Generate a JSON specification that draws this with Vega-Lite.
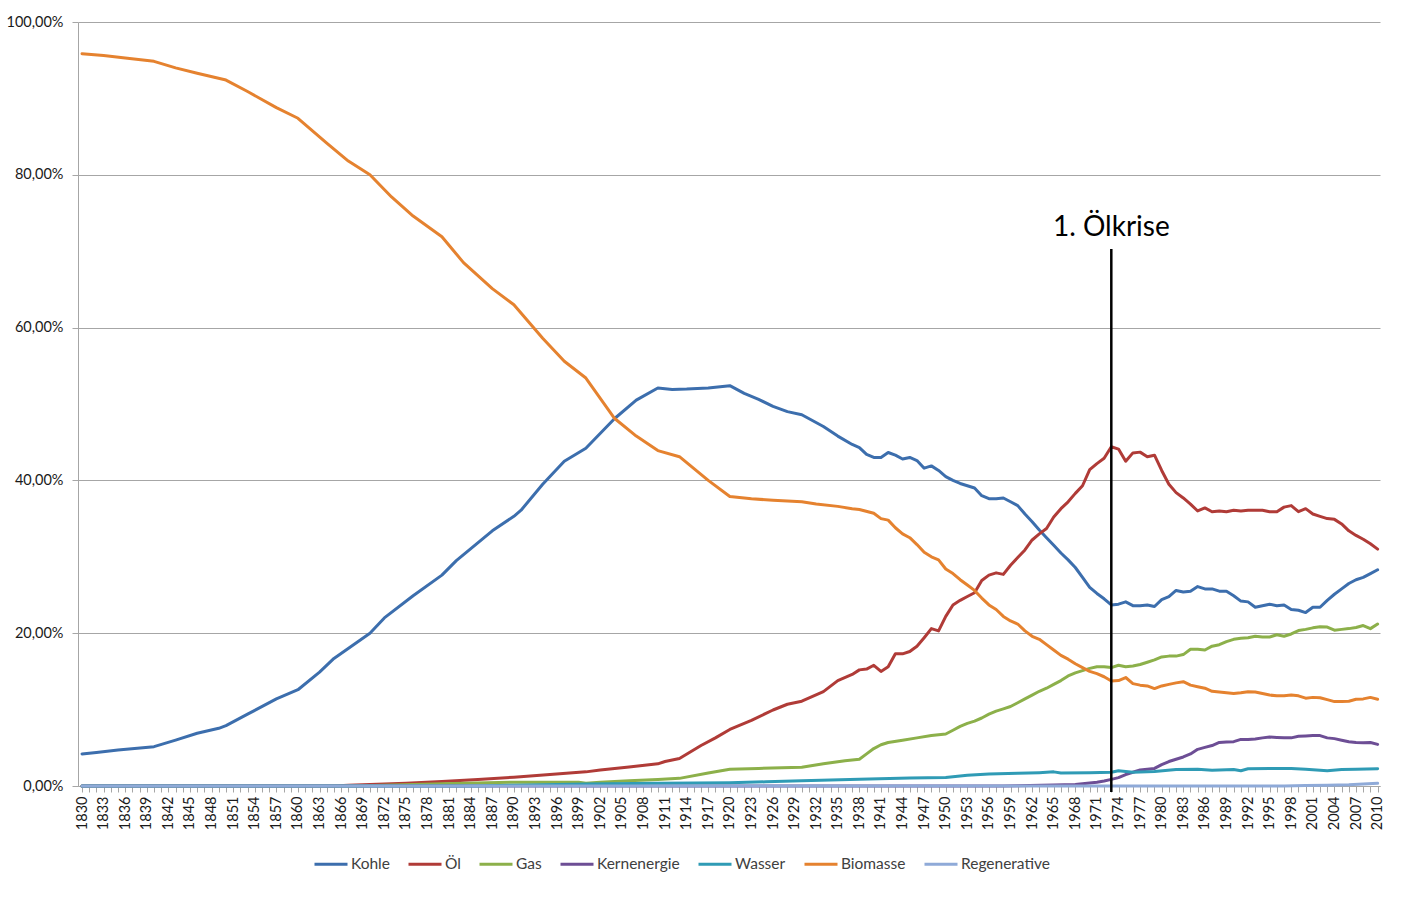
{
"$schema":"https://vega.github.io/schema/vega-lite/v6.json",
"autosize":"none",
"padding":{"left":78,"top":22,"right":27,"bottom":111},
"width":1302,"height":764,
"background":"white",
"config":{"font":"Lato","view":{"stroke":null}},
"datasets":{"series":[
{"year":1830,"source":"Kohle","share":4.2},{"year":1832,"source":"Kohle","share":4.4},{"year":1835,"source":"Kohle","share":4.7},{"year":1840,"source":"Kohle","share":5.15},{"year":1843,"source":"Kohle","share":6.0},{"year":1846,"source":"Kohle","share":6.9},{"year":1849,"source":"Kohle","share":7.55},{"year":1850,"source":"Kohle","share":7.9},{"year":1853,"source":"Kohle","share":9.4},{"year":1857,"source":"Kohle","share":11.4},{"year":1860,"source":"Kohle","share":12.6},{"year":1863,"source":"Kohle","share":14.9},{"year":1865,"source":"Kohle","share":16.7},{"year":1870,"source":"Kohle","share":20.0},{"year":1872,"source":"Kohle","share":22.0},{"year":1876,"source":"Kohle","share":24.9},{"year":1880,"source":"Kohle","share":27.6},{"year":1882,"source":"Kohle","share":29.5},{"year":1887,"source":"Kohle","share":33.4},{"year":1890,"source":"Kohle","share":35.3},{"year":1891,"source":"Kohle","share":36.1},{"year":1894,"source":"Kohle","share":39.5},{"year":1897,"source":"Kohle","share":42.5},{"year":1900,"source":"Kohle","share":44.2},{"year":1904,"source":"Kohle","share":48.1},{"year":1907,"source":"Kohle","share":50.5},{"year":1910,"source":"Kohle","share":52.1},{"year":1912,"source":"Kohle","share":51.9},{"year":1914,"source":"Kohle","share":51.95},{"year":1917,"source":"Kohle","share":52.1},{"year":1920,"source":"Kohle","share":52.4},{"year":1922,"source":"Kohle","share":51.4},{"year":1924,"source":"Kohle","share":50.6},{"year":1926,"source":"Kohle","share":49.7},{"year":1928,"source":"Kohle","share":49.0},{"year":1930,"source":"Kohle","share":48.6},{"year":1933,"source":"Kohle","share":47.05},{"year":1935,"source":"Kohle","share":45.8},{"year":1937,"source":"Kohle","share":44.7},{"year":1938,"source":"Kohle","share":44.3},{"year":1939,"source":"Kohle","share":43.4},{"year":1940,"source":"Kohle","share":43.0},{"year":1941,"source":"Kohle","share":43.0},{"year":1942,"source":"Kohle","share":43.65},{"year":1943,"source":"Kohle","share":43.3},{"year":1944,"source":"Kohle","share":42.8},{"year":1945,"source":"Kohle","share":43.0},{"year":1946,"source":"Kohle","share":42.6},{"year":1947,"source":"Kohle","share":41.6},{"year":1948,"source":"Kohle","share":41.9},{"year":1949,"source":"Kohle","share":41.3},{"year":1950,"source":"Kohle","share":40.5},{"year":1951,"source":"Kohle","share":40.0},{"year":1952,"source":"Kohle","share":39.6},{"year":1953,"source":"Kohle","share":39.3},{"year":1954,"source":"Kohle","share":39.0},{"year":1955,"source":"Kohle","share":38.0},{"year":1956,"source":"Kohle","share":37.6},{"year":1957,"source":"Kohle","share":37.6},{"year":1958,"source":"Kohle","share":37.7},{"year":1959,"source":"Kohle","share":37.2},{"year":1960,"source":"Kohle","share":36.7},{"year":1961,"source":"Kohle","share":35.6},{"year":1962,"source":"Kohle","share":34.6},{"year":1963,"source":"Kohle","share":33.5},{"year":1964,"source":"Kohle","share":32.5},{"year":1965,"source":"Kohle","share":31.5},{"year":1966,"source":"Kohle","share":30.5},{"year":1967,"source":"Kohle","share":29.6},{"year":1968,"source":"Kohle","share":28.6},{"year":1969,"source":"Kohle","share":27.3},{"year":1970,"source":"Kohle","share":26.0},{"year":1971,"source":"Kohle","share":25.2},{"year":1972,"source":"Kohle","share":24.5},{"year":1973,"source":"Kohle","share":23.7},{"year":1974,"source":"Kohle","share":23.8},{"year":1975,"source":"Kohle","share":24.1},{"year":1976,"source":"Kohle","share":23.6},{"year":1977,"source":"Kohle","share":23.6},{"year":1978,"source":"Kohle","share":23.7},{"year":1979,"source":"Kohle","share":23.5},{"year":1980,"source":"Kohle","share":24.4},{"year":1981,"source":"Kohle","share":24.8},{"year":1982,"source":"Kohle","share":25.6},{"year":1983,"source":"Kohle","share":25.4},{"year":1984,"source":"Kohle","share":25.5},{"year":1985,"source":"Kohle","share":26.1},{"year":1986,"source":"Kohle","share":25.8},{"year":1987,"source":"Kohle","share":25.8},{"year":1988,"source":"Kohle","share":25.5},{"year":1989,"source":"Kohle","share":25.5},{"year":1990,"source":"Kohle","share":24.9},{"year":1991,"source":"Kohle","share":24.2},{"year":1992,"source":"Kohle","share":24.1},{"year":1993,"source":"Kohle","share":23.4},{"year":1994,"source":"Kohle","share":23.6},{"year":1995,"source":"Kohle","share":23.8},{"year":1996,"source":"Kohle","share":23.6},{"year":1997,"source":"Kohle","share":23.7},{"year":1998,"source":"Kohle","share":23.1},{"year":1999,"source":"Kohle","share":23.0},{"year":2000,"source":"Kohle","share":22.7},{"year":2001,"source":"Kohle","share":23.4},{"year":2002,"source":"Kohle","share":23.4},{"year":2003,"source":"Kohle","share":24.3},{"year":2004,"source":"Kohle","share":25.1},{"year":2005,"source":"Kohle","share":25.8},{"year":2006,"source":"Kohle","share":26.5},{"year":2007,"source":"Kohle","share":27.0},{"year":2008,"source":"Kohle","share":27.3},{"year":2009,"source":"Kohle","share":27.8},{"year":2010,"source":"Kohle","share":28.3},

{"year":1830,"source":"Öl","share":0},{"year":1865,"source":"Öl","share":0},{"year":1867,"source":"Öl","share":0.1},{"year":1870,"source":"Öl","share":0.2},{"year":1875,"source":"Öl","share":0.35},{"year":1880,"source":"Öl","share":0.6},{"year":1885,"source":"Öl","share":0.85},{"year":1890,"source":"Öl","share":1.15},{"year":1895,"source":"Öl","share":1.5},{"year":1900,"source":"Öl","share":1.85},{"year":1902,"source":"Öl","share":2.1},{"year":1906,"source":"Öl","share":2.5},{"year":1910,"source":"Öl","share":2.9},{"year":1911,"source":"Öl","share":3.2},{"year":1913,"source":"Öl","share":3.6},{"year":1916,"source":"Öl","share":5.3},{"year":1918,"source":"Öl","share":6.3},{"year":1920,"source":"Öl","share":7.4},{"year":1923,"source":"Öl","share":8.6},{"year":1926,"source":"Öl","share":9.95},{"year":1928,"source":"Öl","share":10.7},{"year":1930,"source":"Öl","share":11.1},{"year":1933,"source":"Öl","share":12.35},{"year":1935,"source":"Öl","share":13.8},{"year":1937,"source":"Öl","share":14.6},{"year":1938,"source":"Öl","share":15.2},{"year":1939,"source":"Öl","share":15.3},{"year":1940,"source":"Öl","share":15.8},{"year":1941,"source":"Öl","share":15.0},{"year":1942,"source":"Öl","share":15.6},{"year":1943,"source":"Öl","share":17.3},{"year":1944,"source":"Öl","share":17.3},{"year":1945,"source":"Öl","share":17.6},{"year":1946,"source":"Öl","share":18.3},{"year":1947,"source":"Öl","share":19.4},{"year":1948,"source":"Öl","share":20.6},{"year":1949,"source":"Öl","share":20.3},{"year":1950,"source":"Öl","share":22.2},{"year":1951,"source":"Öl","share":23.7},{"year":1952,"source":"Öl","share":24.3},{"year":1953,"source":"Öl","share":24.8},{"year":1954,"source":"Öl","share":25.3},{"year":1955,"source":"Öl","share":26.9},{"year":1956,"source":"Öl","share":27.6},{"year":1957,"source":"Öl","share":27.9},{"year":1958,"source":"Öl","share":27.7},{"year":1959,"source":"Öl","share":28.9},{"year":1960,"source":"Öl","share":29.9},{"year":1961,"source":"Öl","share":30.9},{"year":1962,"source":"Öl","share":32.2},{"year":1963,"source":"Öl","share":33.0},{"year":1964,"source":"Öl","share":33.7},{"year":1965,"source":"Öl","share":35.2},{"year":1966,"source":"Öl","share":36.3},{"year":1967,"source":"Öl","share":37.2},{"year":1968,"source":"Öl","share":38.3},{"year":1969,"source":"Öl","share":39.3},{"year":1970,"source":"Öl","share":41.4},{"year":1971,"source":"Öl","share":42.2},{"year":1972,"source":"Öl","share":42.9},{"year":1973,"source":"Öl","share":44.4},{"year":1974,"source":"Öl","share":44.1},{"year":1975,"source":"Öl","share":42.5},{"year":1976,"source":"Öl","share":43.6},{"year":1977,"source":"Öl","share":43.7},{"year":1978,"source":"Öl","share":43.1},{"year":1979,"source":"Öl","share":43.3},{"year":1980,"source":"Öl","share":41.3},{"year":1981,"source":"Öl","share":39.5},{"year":1982,"source":"Öl","share":38.4},{"year":1983,"source":"Öl","share":37.7},{"year":1984,"source":"Öl","share":36.9},{"year":1985,"source":"Öl","share":36.0},{"year":1986,"source":"Öl","share":36.4},{"year":1987,"source":"Öl","share":35.9},{"year":1988,"source":"Öl","share":36.0},{"year":1989,"source":"Öl","share":35.9},{"year":1990,"source":"Öl","share":36.1},{"year":1991,"source":"Öl","share":36.0},{"year":1992,"source":"Öl","share":36.1},{"year":1993,"source":"Öl","share":36.1},{"year":1994,"source":"Öl","share":36.1},{"year":1995,"source":"Öl","share":35.9},{"year":1996,"source":"Öl","share":35.9},{"year":1997,"source":"Öl","share":36.5},{"year":1998,"source":"Öl","share":36.7},{"year":1999,"source":"Öl","share":35.9},{"year":2000,"source":"Öl","share":36.3},{"year":2001,"source":"Öl","share":35.6},{"year":2002,"source":"Öl","share":35.3},{"year":2003,"source":"Öl","share":35.0},{"year":2004,"source":"Öl","share":34.9},{"year":2005,"source":"Öl","share":34.3},{"year":2006,"source":"Öl","share":33.4},{"year":2007,"source":"Öl","share":32.8},{"year":2008,"source":"Öl","share":32.3},{"year":2009,"source":"Öl","share":31.7},{"year":2010,"source":"Öl","share":31.0},

{"year":1830,"source":"Gas","share":0},{"year":1868,"source":"Gas","share":0},{"year":1872,"source":"Gas","share":0.1},{"year":1880,"source":"Gas","share":0.3},{"year":1890,"source":"Gas","share":0.5},{"year":1899,"source":"Gas","share":0.5},{"year":1900,"source":"Gas","share":0.35},{"year":1902,"source":"Gas","share":0.5},{"year":1906,"source":"Gas","share":0.7},{"year":1910,"source":"Gas","share":0.85},{"year":1913,"source":"Gas","share":1.0},{"year":1917,"source":"Gas","share":1.7},{"year":1920,"source":"Gas","share":2.2},{"year":1924,"source":"Gas","share":2.3},{"year":1930,"source":"Gas","share":2.45},{"year":1933,"source":"Gas","share":2.9},{"year":1936,"source":"Gas","share":3.3},{"year":1938,"source":"Gas","share":3.5},{"year":1939,"source":"Gas","share":4.2},{"year":1940,"source":"Gas","share":4.9},{"year":1941,"source":"Gas","share":5.4},{"year":1942,"source":"Gas","share":5.7},{"year":1944,"source":"Gas","share":6.0},{"year":1946,"source":"Gas","share":6.3},{"year":1948,"source":"Gas","share":6.6},{"year":1950,"source":"Gas","share":6.8},{"year":1951,"source":"Gas","share":7.3},{"year":1952,"source":"Gas","share":7.8},{"year":1953,"source":"Gas","share":8.2},{"year":1954,"source":"Gas","share":8.5},{"year":1955,"source":"Gas","share":8.9},{"year":1956,"source":"Gas","share":9.4},{"year":1957,"source":"Gas","share":9.8},{"year":1958,"source":"Gas","share":10.1},{"year":1959,"source":"Gas","share":10.4},{"year":1960,"source":"Gas","share":10.9},{"year":1961,"source":"Gas","share":11.4},{"year":1962,"source":"Gas","share":11.9},{"year":1963,"source":"Gas","share":12.4},{"year":1964,"source":"Gas","share":12.8},{"year":1965,"source":"Gas","share":13.3},{"year":1966,"source":"Gas","share":13.8},{"year":1967,"source":"Gas","share":14.4},{"year":1968,"source":"Gas","share":14.8},{"year":1969,"source":"Gas","share":15.1},{"year":1970,"source":"Gas","share":15.4},{"year":1971,"source":"Gas","share":15.6},{"year":1972,"source":"Gas","share":15.6},{"year":1973,"source":"Gas","share":15.5},{"year":1974,"source":"Gas","share":15.8},{"year":1975,"source":"Gas","share":15.6},{"year":1976,"source":"Gas","share":15.7},{"year":1977,"source":"Gas","share":15.9},{"year":1978,"source":"Gas","share":16.2},{"year":1979,"source":"Gas","share":16.5},{"year":1980,"source":"Gas","share":16.9},{"year":1981,"source":"Gas","share":17.0},{"year":1982,"source":"Gas","share":17.0},{"year":1983,"source":"Gas","share":17.2},{"year":1984,"source":"Gas","share":17.9},{"year":1985,"source":"Gas","share":17.9},{"year":1986,"source":"Gas","share":17.8},{"year":1987,"source":"Gas","share":18.3},{"year":1988,"source":"Gas","share":18.5},{"year":1989,"source":"Gas","share":18.9},{"year":1990,"source":"Gas","share":19.2},{"year":1991,"source":"Gas","share":19.35},{"year":1992,"source":"Gas","share":19.4},{"year":1993,"source":"Gas","share":19.6},{"year":1994,"source":"Gas","share":19.5},{"year":1995,"source":"Gas","share":19.5},{"year":1996,"source":"Gas","share":19.8},{"year":1997,"source":"Gas","share":19.6},{"year":1998,"source":"Gas","share":19.9},{"year":1999,"source":"Gas","share":20.35},{"year":2000,"source":"Gas","share":20.5},{"year":2001,"source":"Gas","share":20.7},{"year":2002,"source":"Gas","share":20.85},{"year":2003,"source":"Gas","share":20.8},{"year":2004,"source":"Gas","share":20.4},{"year":2005,"source":"Gas","share":20.5},{"year":2006,"source":"Gas","share":20.6},{"year":2007,"source":"Gas","share":20.75},{"year":2008,"source":"Gas","share":21.0},{"year":2009,"source":"Gas","share":20.6},{"year":2010,"source":"Gas","share":21.2},

{"year":1830,"source":"Kernenergie","share":0},{"year":1958,"source":"Kernenergie","share":0},{"year":1960,"source":"Kernenergie","share":0.03},{"year":1965,"source":"Kernenergie","share":0.13},{"year":1968,"source":"Kernenergie","share":0.2},{"year":1970,"source":"Kernenergie","share":0.4},{"year":1971,"source":"Kernenergie","share":0.5},{"year":1972,"source":"Kernenergie","share":0.65},{"year":1973,"source":"Kernenergie","share":0.87},{"year":1974,"source":"Kernenergie","share":1.1},{"year":1975,"source":"Kernenergie","share":1.5},{"year":1976,"source":"Kernenergie","share":1.8},{"year":1977,"source":"Kernenergie","share":2.1},{"year":1978,"source":"Kernenergie","share":2.2},{"year":1979,"source":"Kernenergie","share":2.3},{"year":1980,"source":"Kernenergie","share":2.8},{"year":1981,"source":"Kernenergie","share":3.2},{"year":1982,"source":"Kernenergie","share":3.5},{"year":1983,"source":"Kernenergie","share":3.8},{"year":1984,"source":"Kernenergie","share":4.2},{"year":1985,"source":"Kernenergie","share":4.8},{"year":1986,"source":"Kernenergie","share":5.05},{"year":1987,"source":"Kernenergie","share":5.3},{"year":1988,"source":"Kernenergie","share":5.7},{"year":1989,"source":"Kernenergie","share":5.75},{"year":1990,"source":"Kernenergie","share":5.8},{"year":1991,"source":"Kernenergie","share":6.1},{"year":1992,"source":"Kernenergie","share":6.1},{"year":1993,"source":"Kernenergie","share":6.15},{"year":1994,"source":"Kernenergie","share":6.3},{"year":1995,"source":"Kernenergie","share":6.4},{"year":1996,"source":"Kernenergie","share":6.35},{"year":1997,"source":"Kernenergie","share":6.3},{"year":1998,"source":"Kernenergie","share":6.3},{"year":1999,"source":"Kernenergie","share":6.5},{"year":2000,"source":"Kernenergie","share":6.55},{"year":2001,"source":"Kernenergie","share":6.6},{"year":2002,"source":"Kernenergie","share":6.6},{"year":2003,"source":"Kernenergie","share":6.3},{"year":2004,"source":"Kernenergie","share":6.2},{"year":2005,"source":"Kernenergie","share":6.0},{"year":2006,"source":"Kernenergie","share":5.8},{"year":2007,"source":"Kernenergie","share":5.7},{"year":2008,"source":"Kernenergie","share":5.65},{"year":2009,"source":"Kernenergie","share":5.7},{"year":2010,"source":"Kernenergie","share":5.45},

{"year":1830,"source":"Wasser","share":0},{"year":1885,"source":"Wasser","share":0},{"year":1890,"source":"Wasser","share":0.1},{"year":1900,"source":"Wasser","share":0.25},{"year":1910,"source":"Wasser","share":0.35},{"year":1920,"source":"Wasser","share":0.43},{"year":1925,"source":"Wasser","share":0.55},{"year":1930,"source":"Wasser","share":0.7},{"year":1938,"source":"Wasser","share":0.87},{"year":1945,"source":"Wasser","share":1.05},{"year":1950,"source":"Wasser","share":1.1},{"year":1953,"source":"Wasser","share":1.4},{"year":1956,"source":"Wasser","share":1.57},{"year":1960,"source":"Wasser","share":1.66},{"year":1963,"source":"Wasser","share":1.75},{"year":1965,"source":"Wasser","share":1.85},{"year":1966,"source":"Wasser","share":1.7},{"year":1970,"source":"Wasser","share":1.75},{"year":1973,"source":"Wasser","share":1.8},{"year":1974,"source":"Wasser","share":2.0},{"year":1976,"source":"Wasser","share":1.8},{"year":1979,"source":"Wasser","share":1.9},{"year":1982,"source":"Wasser","share":2.15},{"year":1985,"source":"Wasser","share":2.2},{"year":1987,"source":"Wasser","share":2.05},{"year":1990,"source":"Wasser","share":2.15},{"year":1991,"source":"Wasser","share":2.0},{"year":1992,"source":"Wasser","share":2.25},{"year":1995,"source":"Wasser","share":2.3},{"year":1998,"source":"Wasser","share":2.3},{"year":2000,"source":"Wasser","share":2.2},{"year":2003,"source":"Wasser","share":2.0},{"year":2005,"source":"Wasser","share":2.15},{"year":2007,"source":"Wasser","share":2.2},{"year":2010,"source":"Wasser","share":2.27},

{"year":1830,"source":"Biomasse","share":95.85},{"year":1833,"source":"Biomasse","share":95.6},{"year":1836,"source":"Biomasse","share":95.3},{"year":1840,"source":"Biomasse","share":94.85},{"year":1843,"source":"Biomasse","share":94.0},{"year":1846,"source":"Biomasse","share":93.3},{"year":1850,"source":"Biomasse","share":92.4},{"year":1853,"source":"Biomasse","share":90.9},{"year":1857,"source":"Biomasse","share":88.8},{"year":1860,"source":"Biomasse","share":87.4},{"year":1864,"source":"Biomasse","share":84.15},{"year":1867,"source":"Biomasse","share":81.8},{"year":1870,"source":"Biomasse","share":80.0},{"year":1873,"source":"Biomasse","share":77.1},{"year":1876,"source":"Biomasse","share":74.6},{"year":1880,"source":"Biomasse","share":71.9},{"year":1883,"source":"Biomasse","share":68.5},{"year":1887,"source":"Biomasse","share":65.1},{"year":1890,"source":"Biomasse","share":63.0},{"year":1894,"source":"Biomasse","share":58.6},{"year":1897,"source":"Biomasse","share":55.6},{"year":1900,"source":"Biomasse","share":53.4},{"year":1904,"source":"Biomasse","share":48.1},{"year":1907,"source":"Biomasse","share":45.8},{"year":1910,"source":"Biomasse","share":43.9},{"year":1913,"source":"Biomasse","share":43.1},{"year":1917,"source":"Biomasse","share":40.0},{"year":1920,"source":"Biomasse","share":37.9},{"year":1923,"source":"Biomasse","share":37.6},{"year":1926,"source":"Biomasse","share":37.4},{"year":1930,"source":"Biomasse","share":37.2},{"year":1932,"source":"Biomasse","share":36.9},{"year":1935,"source":"Biomasse","share":36.6},{"year":1937,"source":"Biomasse","share":36.3},{"year":1938,"source":"Biomasse","share":36.2},{"year":1940,"source":"Biomasse","share":35.7},{"year":1941,"source":"Biomasse","share":35.0},{"year":1942,"source":"Biomasse","share":34.8},{"year":1943,"source":"Biomasse","share":33.8},{"year":1944,"source":"Biomasse","share":33.0},{"year":1945,"source":"Biomasse","share":32.5},{"year":1946,"source":"Biomasse","share":31.6},{"year":1947,"source":"Biomasse","share":30.6},{"year":1948,"source":"Biomasse","share":30.0},{"year":1949,"source":"Biomasse","share":29.6},{"year":1950,"source":"Biomasse","share":28.4},{"year":1951,"source":"Biomasse","share":27.8},{"year":1952,"source":"Biomasse","share":27.0},{"year":1953,"source":"Biomasse","share":26.3},{"year":1954,"source":"Biomasse","share":25.6},{"year":1955,"source":"Biomasse","share":24.6},{"year":1956,"source":"Biomasse","share":23.7},{"year":1957,"source":"Biomasse","share":23.1},{"year":1958,"source":"Biomasse","share":22.2},{"year":1959,"source":"Biomasse","share":21.6},{"year":1960,"source":"Biomasse","share":21.2},{"year":1961,"source":"Biomasse","share":20.3},{"year":1962,"source":"Biomasse","share":19.6},{"year":1963,"source":"Biomasse","share":19.2},{"year":1964,"source":"Biomasse","share":18.5},{"year":1965,"source":"Biomasse","share":17.8},{"year":1966,"source":"Biomasse","share":17.1},{"year":1967,"source":"Biomasse","share":16.6},{"year":1968,"source":"Biomasse","share":16.0},{"year":1969,"source":"Biomasse","share":15.5},{"year":1970,"source":"Biomasse","share":15.0},{"year":1971,"source":"Biomasse","share":14.7},{"year":1972,"source":"Biomasse","share":14.3},{"year":1973,"source":"Biomasse","share":13.75},{"year":1974,"source":"Biomasse","share":13.8},{"year":1975,"source":"Biomasse","share":14.2},{"year":1976,"source":"Biomasse","share":13.4},{"year":1977,"source":"Biomasse","share":13.2},{"year":1978,"source":"Biomasse","share":13.1},{"year":1979,"source":"Biomasse","share":12.75},{"year":1980,"source":"Biomasse","share":13.1},{"year":1981,"source":"Biomasse","share":13.3},{"year":1982,"source":"Biomasse","share":13.5},{"year":1983,"source":"Biomasse","share":13.65},{"year":1984,"source":"Biomasse","share":13.2},{"year":1985,"source":"Biomasse","share":13.0},{"year":1986,"source":"Biomasse","share":12.8},{"year":1987,"source":"Biomasse","share":12.4},{"year":1988,"source":"Biomasse","share":12.3},{"year":1989,"source":"Biomasse","share":12.2},{"year":1990,"source":"Biomasse","share":12.1},{"year":1991,"source":"Biomasse","share":12.2},{"year":1992,"source":"Biomasse","share":12.35},{"year":1993,"source":"Biomasse","share":12.3},{"year":1994,"source":"Biomasse","share":12.1},{"year":1995,"source":"Biomasse","share":11.9},{"year":1996,"source":"Biomasse","share":11.8},{"year":1997,"source":"Biomasse","share":11.8},{"year":1998,"source":"Biomasse","share":11.9},{"year":1999,"source":"Biomasse","share":11.8},{"year":2000,"source":"Biomasse","share":11.5},{"year":2001,"source":"Biomasse","share":11.6},{"year":2002,"source":"Biomasse","share":11.55},{"year":2003,"source":"Biomasse","share":11.3},{"year":2004,"source":"Biomasse","share":11.05},{"year":2005,"source":"Biomasse","share":11.05},{"year":2006,"source":"Biomasse","share":11.1},{"year":2007,"source":"Biomasse","share":11.35},{"year":2008,"source":"Biomasse","share":11.4},{"year":2009,"source":"Biomasse","share":11.6},{"year":2010,"source":"Biomasse","share":11.35},

{"year":1830,"source":"Regenerative","share":0},{"year":1997,"source":"Regenerative","share":0},{"year":2000,"source":"Regenerative","share":0.05},{"year":2003,"source":"Regenerative","share":0.1},{"year":2006,"source":"Regenerative","share":0.15},{"year":2008,"source":"Regenerative","share":0.25},{"year":2010,"source":"Regenerative","share":0.35}
]},
"layer":[
{"data":{"name":"series"},
 "mark":{"type":"line","strokeWidth":3,"strokeJoin":"round","strokeCap":"round"},
 "encoding":{
  "x":{"field":"year","type":"quantitative","scale":{"domain":[1829.44,2010.33],"nice":false,"zero":false},
   "axis":{"title":null,"grid":false,"tickCount":180,"labelExpr":"(datum.value - 1830) % 3 == 0 ? '' + datum.value : ''","labelOverlap":false,"labelFlush":false,"labelAngle":270,"labelAlign":"right","labelBaseline":"middle","labelFontSize":14.5,"labelColor":"#1a1a1a","labelPadding":4,"tickSize":6,"tickColor":"#A6A6A6","domainColor":"#A6A6A6"}},
  "y":{"field":"share","type":"quantitative","scale":{"domain":[0,100],"nice":false},
   "axis":{"title":null,"values":[0,20,40,60,80,100],"labelExpr":"replace(format(datum.value,'.2f'),'.',',') + '%'","grid":true,"gridColor":"#A6A6A6","gridWidth":1,"domainColor":"#A6A6A6","tickColor":"#A6A6A6","tickSize":6,"labelPadding":9,"labelFontSize":14.5,"labelColor":"#1a1a1a"}},
  "color":{"field":"source","type":"nominal",
   "scale":{"domain":["Kohle","Öl","Gas","Kernenergie","Wasser","Biomasse","Regenerative"],"range":["#3C6EAD","#B03B37","#8CB04A","#6D4E95","#2F9BB5","#E5822F","#8FAAD8"]},
   "legend":{"orient":"none","legendX":235,"legendY":824,"direction":"horizontal","title":null,"symbolType":"stroke","symbolSize":1089,"symbolStrokeWidth":3,"labelFontSize":15.5,"labelColor":"#404040","columnPadding":12,"labelOffset":2,"padding":0}}
 }},
{"data":{"values":[{"year":1973,"top":70.3,"bottom":-0.8}]},
 "mark":{"type":"rule","color":"black","strokeWidth":2.5},
 "encoding":{"x":{"field":"year","type":"quantitative"},"y":{"field":"top","type":"quantitative"},"y2":{"field":"bottom"}}},
{"data":{"values":[{"year":1973,"pos":72.0,"label":"1. Ölkrise"}]},
 "mark":{"type":"text","fontSize":28,"baseline":"alphabetic","align":"center","color":"black"},
 "encoding":{"x":{"field":"year","type":"quantitative"},"y":{"field":"pos","type":"quantitative"},"text":{"field":"label"}}}
]
}
